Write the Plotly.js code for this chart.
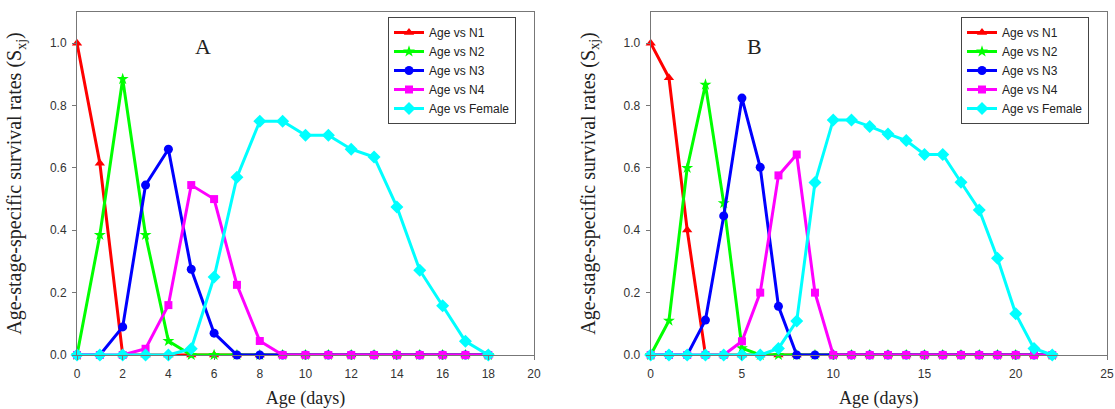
<!DOCTYPE html>
<html>
<head>
<meta charset="utf-8">
<script src="https://cdn.plot.ly/plotly-3.0.1.min.js"></script>
<style>html,body{margin:0;padding:0;background:#fff;}#chart{width:1115px;height:409px;}</style>
</head>
<body>
<div id="chart"></div>
<script>
// ---- Data ----
const seriesNames = ["Age vs N1", "Age vs N2", "Age vs N3", "Age vs N4", "Age vs Female"];

// Panel A
const ageA = [0,1,2,3,4,5,6,7,8,9,10,11,12,13,14,15,16,17,18];
const n1A  = [1.0,0.615,0,0,0,0,0,0,0,0,0,0,0,0,0,0,0,0,0];
const n2A  = [0,0.385,0.885,0.385,0.045,0,0,0,0,0,0,0,0,0,0,0,0,0,0];
const n3A  = [0,0,0.09,0.545,0.66,0.275,0.07,0,0,0,0,0,0,0,0,0,0,0,0];
const n4A  = [0,0,0,0.02,0.16,0.545,0.5,0.225,0.045,0,0,0,0,0,0,0,0,0,0];
const femA = [0,0,0,0,0,0.02,0.25,0.57,0.75,0.75,0.705,0.705,0.66,0.635,0.475,0.272,0.158,0.044,0];

// Panel B
const ageB = [0,1,2,3,4,5,6,7,8,9,10,11,12,13,14,15,16,17,18,19,20,21,22];
const n1B  = [1.0,0.889,0.401,0,0,0,0,0,0,0,0,0,0,0,0,0,0,0,0,0,0,0,0];
const n2B  = [0,0.11,0.6,0.867,0.487,0.022,0,0,0,0,0,0,0,0,0,0,0,0,0,0,0,0,0];
const n3B  = [0,0,0,0.112,0.446,0.824,0.602,0.156,0,0,0,0,0,0,0,0,0,0,0,0,0,0,0];
const n4B  = [0,0,0,0,0,0.044,0.2,0.576,0.643,0.2,0,0,0,0,0,0,0,0,0,0,0,0,0];
const femB = [0,0,0,0,0,0,0,0.021,0.109,0.553,0.754,0.754,0.733,0.709,0.688,0.643,0.643,0.554,0.465,0.31,0.132,0.021,0];

// ---- Styles ----
const colors  = ["#ff0000", "#00ff00", "#0000ff", "#ff00ff", "#00ffff"];
const symbols = ["triangle-up", "star", "circle", "square", "diamond"];
const msizes  = [9, 9, 9, 8, 10];

function mk(x, y, i, xa, ya, leg) {
  return {
    x: x, y: y, type: "scatter", mode: "lines+markers",
    name: seriesNames[i],
    xaxis: xa, yaxis: ya, legend: leg,
    line: {color: colors[i], width: 3},
    marker: {color: colors[i], symbol: symbols[i], size: msizes[i]},
    cliponaxis: false
  };
}

const seriesA = [n1A, n2A, n3A, n4A, femA];
const seriesB = [n1B, n2B, n3B, n4B, femB];
const traces = [];
seriesA.forEach((s, i) => traces.push(mk(ageA, s, i, "x", "y", "legend")));
seriesB.forEach((s, i) => traces.push(mk(ageB, s, i, "x2", "y2", "legend2")));

const W = 1115, H = 409;
const mL = 77, mR = 8, mT = 12, mB = 54;
const pw = W - mL - mR;
const tickFont = {family: "Liberation Sans, Arial, sans-serif", size: 12, color: "#333"};
const serif = "Liberation Serif, Times New Roman, serif";
const axisCol = "#777";

function xax(domain, rng, dt) {
  return {
    domain: domain, range: rng, dtick: dt, tick0: 0,
    showgrid: false, zeroline: false,
    showline: true, linecolor: axisCol, linewidth: 1, mirror: true,
    ticks: "outside", ticklen: 4, tickcolor: axisCol,
    ticklabelstandoff: 4,
    tickfont: tickFont,
    title: {text: "Age (days)", font: {family: serif, size: 18, color: "#222"}, standoff: 12},
    automargin: false
  };
}
function yax(anchor) {
  return {
    domain: [0, 1], range: [0, 1.1], dtick: 0.2, tick0: 0, tickformat: ".1f",
    anchor: anchor,
    showgrid: false, zeroline: false,
    showline: true, linecolor: axisCol, linewidth: 1, mirror: true,
    ticks: "outside", ticklen: 4, tickcolor: axisCol,
    ticklabelstandoff: 3,
    tickfont: tickFont,
    title: {text: "Age-stage-specific survival rates (S<sub>xj</sub>)", font: {family: serif, size: 20, color: "#222"}, standoff: 22},
    automargin: false
  };
}

const legStyle = (xpx) => ({
  x: (xpx - mL) / pw, y: (H - mB - 17) / (H - mT - mB),
  xanchor: "left", yanchor: "top",
  bgcolor: "#ffffff", bordercolor: "#444", borderwidth: 1,
  font: {family: "Liberation Sans, Arial, sans-serif", size: 12, color: "#222"},
  tracegroupgap: 0, itemwidth: 30
});

const layout = {
  width: W, height: H,
  margin: {l: mL, r: mR, t: mT, b: mB},
  paper_bgcolor: "#fff", plot_bgcolor: "#fff",
  showlegend: true,
  xaxis:  Object.assign(xax([0, (534 - mL) / pw], [0, 20], 2), {anchor: "y"}),
  yaxis:  yax("x"),
  xaxis2: Object.assign(xax([(650.7 - mL) / pw, 1], [0, 25], 5), {anchor: "y2"}),
  yaxis2: yax("x2"),
  legend:  legStyle(388),
  legend2: legStyle(961),
  annotations: [
    {text: "A", xref: "x", yref: "y", x: 5.5, y: 0.99, showarrow: false,
     font: {family: serif, size: 22, color: "#222"}},
    {text: "B", xref: "x2", yref: "y2", x: 5.66, y: 0.99, showarrow: false,
     font: {family: serif, size: 22, color: "#222"}}
  ]
};

Plotly.newPlot("chart", traces, layout, {staticPlot: true, displayModeBar: false});
</script>
</body>
</html>
